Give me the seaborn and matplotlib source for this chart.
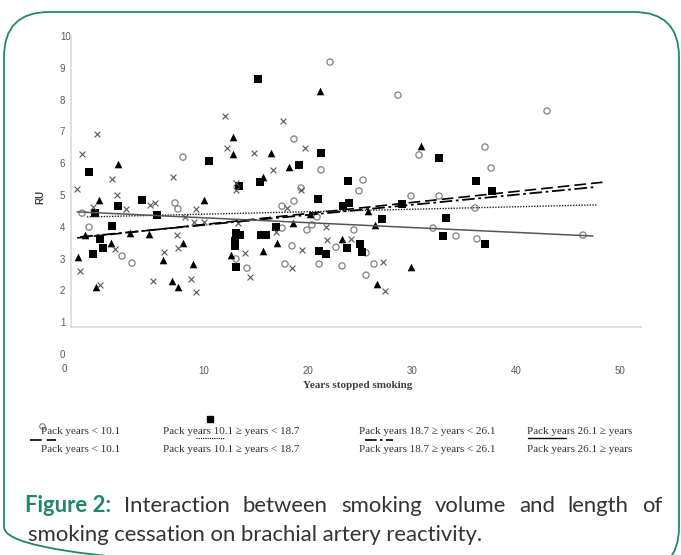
import numpy as np
import pandas as pd
import matplotlib
matplotlib.use("Agg")
import matplotlib.pyplot as plt
import seaborn as sns
from matplotlib.patches import FancyBboxPatch
from matplotlib.lines import Line2D

# ---------------- data ----------------
groups = ["Pack years < 10.1", "Pack years 10.1 \u2265 years < 18.7",
          "Pack years 18.7 \u2265 years < 26.1", "Pack years 26.1 \u2265 years"]

circle_x = [-1.73, -1.06, 2.12, 3.08, 7.98, 7.21, 7.50, 13.08, 14.13, 17.50, 17.50, 17.79, 18.46,
            18.65, 18.65, 19.33, 19.90, 20.38, 20.87, 21.06, 21.25, 22.12, 22.69, 23.27, 24.42,
            24.90, 25.29, 25.58, 25.58, 26.35, 28.65, 29.90, 30.67, 32.02, 32.60, 34.23, 36.06,
            36.25, 37.02, 37.60, 42.98, 46.44]
circle_y = [4.43, 3.99, 3.08, 2.86, 6.19, 4.75, 4.56, 2.99, 2.70, 4.65, 3.96, 2.83, 3.40,
            6.76, 4.81, 5.22, 3.90, 4.06, 4.31, 2.83, 5.79, 9.18, 3.36, 2.77, 3.90,
            5.13, 5.47, 3.18, 2.48, 2.83, 8.14, 4.97, 6.26, 3.96, 4.97, 3.71, 4.59,
            3.62, 6.51, 5.85, 7.64, 3.74]

square_x = [-1.06, 1.73, -0.48, 4.04, 5.48, 1.15, 0.00, 0.29, -0.67, 10.48, 15.19, 13.37, 15.38,
            13.08, 13.46, 12.98, 12.98, 13.08, 15.48, 15.96, 16.92, 19.13, 21.25, 20.96, 21.06,
            21.73, 23.85, 23.37, 23.94, 29.04, 27.12, 23.75, 25.00, 25.19, 32.60, 36.15, 37.69,
            33.27, 32.98, 37.02]
square_y = [5.72, 4.65, 4.43, 4.84, 4.37, 4.03, 3.62, 3.33, 3.14, 6.07, 8.65, 5.28, 5.41,
            3.81, 3.74, 3.55, 3.40, 2.74, 3.74, 3.74, 3.99, 5.94, 6.32, 4.87, 3.24,
            3.14, 5.44, 4.65, 4.75, 4.72, 4.25, 3.33, 3.46, 3.21, 6.16, 5.44, 5.13,
            4.28, 3.71, 3.46]

triangle_x = [1.73, -0.10, 10.00, 12.79, 12.79, 16.44, 15.67, 18.17, 21.15, -2.12, -1.44, 1.06,
              2.88, 4.71, 6.06, -0.38, 6.92, 7.50, 8.94, 7.98, 12.60, 15.67, 17.02, 18.56,
              20.19, 26.44, 23.27, 29.90, 26.63, 30.87, 25.77]
triangle_y = [5.97, 4.84, 4.84, 6.82, 6.29, 6.32, 5.57, 5.88, 8.27, 3.05, 3.74, 3.49,
              3.81, 3.77, 2.96, 2.11, 2.30, 2.11, 2.83, 3.49, 3.11, 3.24, 3.49, 4.12,
              4.40, 4.06, 3.62, 2.74, 2.20, 6.54, 4.50]

cross_x = [-2.21, -1.73, -0.29, 1.15, 1.63, 2.50, -0.67, 4.81, 5.29, 7.02, 9.23, 12.02, 12.21,
           14.81, 13.08, 13.08, 16.63, 17.60, 19.71, 19.33, 17.98, -1.92, 0.00, 1.44, 5.10,
           6.15, 7.40, 7.50, 8.75, 9.23, 9.04, 8.17, 10.00, 13.94, 14.42, 16.92, 21.73,
           21.83, 24.13, 19.42, 18.46, 27.21, 27.40, 13.27]
cross_y = [5.19, 6.29, 6.92, 5.50, 5.00, 4.56, 4.62, 4.69, 4.75, 5.57, 4.56, 7.48, 6.48,
           6.32, 5.38, 5.16, 5.79, 7.33, 6.48, 5.16, 4.59, 2.61, 2.17, 3.30, 2.30,
           3.21, 3.74, 3.33, 2.36, 1.95, 4.15, 4.31, 4.15, 3.18, 2.42, 3.84, 3.99,
           3.58, 3.62, 3.27, 2.70, 2.89, 1.98, 4.12]

# fitted trend lines (start / end)
trend_x0 = [-2.2, -1.25, -1.9, -2.2]
trend_x1 = [48.6, 47.8, 47.6, 47.4]
trend_y0 = [3.65, 4.31, 3.68, 4.47]
trend_y1 = [5.41, 4.69, 5.25, 3.71]

x_ticks = [10, 20, 30, 40, 50]
y_ticks = list(range(0, 11))

# ---------------- figure ----------------
sns.set_theme(style="white")
plt.rcParams["font.family"] = ["Liberation Sans", "DejaVu Sans"]

W, H = 681, 555
fig = plt.figure(figsize=(W / 100, H / 100), dpi=100)
fig.patch.set_facecolor("white")

# overlay in pixel coordinates
ov = fig.add_axes([0, 0, 1, 1])
ov.set_xlim(0, W)
ov.set_ylim(H, 0)
ov.axis("off")
ov.set_zorder(0)

teal = "#23866a"
border = FancyBboxPatch((4, 12), 675, 560, boxstyle="round,pad=0,rounding_size=45",
                        fill=False, edgecolor=teal, linewidth=1.3, clip_on=False)
ov.add_patch(border)

# main axes
ax_l, ax_r, ax_t, ax_b = 71, 642, 36, 354
ax = fig.add_axes([ax_l / W, 1 - ax_b / H, (ax_r - ax_l) / W, (ax_b - ax_t) / H])
ax.set_zorder(1)
ax.patch.set_alpha(0)
ax.set_xlim((ax_l - 100) / 10.4, (ax_r - 100) / 10.4)
ax.set_ylim(0, 10)

grey_marker = "#808080"
sns.scatterplot(x=circle_x, y=circle_y, ax=ax, marker="o", s=20, facecolor="none",
                edgecolor=grey_marker, linewidth=0.9, zorder=3)
sns.scatterplot(x=square_x, y=square_y, ax=ax, marker="s", s=28, color="black",
                edgecolor="black", linewidth=0, zorder=3)
sns.scatterplot(x=triangle_x, y=triangle_y, ax=ax, marker="^", s=30, color="black",
                edgecolor="black", linewidth=0, zorder=3)
sns.scatterplot(x=cross_x, y=cross_y, ax=ax, marker="x", s=18, color="#555555",
                linewidth=0.8, zorder=3)

line_styles = [(0, (7, 3)), (0, (1, 1)), (0, (7, 2, 1.5, 2)), "-"]
line_colors = ["black", "#222222", "black", "#555555"]
line_widths = [1.2, 1.0, 1.3, 1.1]
for i in range(4):
    sns.lineplot(x=[trend_x0[i], trend_x1[i]], y=[trend_y0[i], trend_y1[i]], ax=ax,
                 color=line_colors[i], linewidth=line_widths[i], linestyle=line_styles[i],
                 zorder=4)

for s in ["top", "right", "bottom"]:
    ax.spines[s].set_visible(False)
ax.spines["left"].set_color("#d9d9d9")
ax.spines["left"].set_linewidth(1.2)
ax.spines["left"].set_bounds(0.85, 10)
ax.axhline(0.85, color="#d9d9d9", linewidth=1.2, zorder=1)

ax.set_xticks(x_ticks)
ax.set_xticklabels([str(v) for v in x_ticks])
ax.set_yticks(y_ticks)
ax.set_yticklabels([str(v) for v in y_ticks])
ax.tick_params(axis="both", length=0, labelsize=7, labelcolor="#595959")
ax.tick_params(axis="x", pad=9)
ax.tick_params(axis="y", pad=8)
for lab in ax.get_yticklabels():
    lab.set_horizontalalignment("left")
ax.grid(False)
ax.set_xlabel("")
ax.set_ylabel("")

# extra "0" under axis origin and axis titles
ov.text(64, 369, "0", fontsize=7, color="#595959", ha="center", va="center")
ov.text(358, 385, "Years stopped smoking", fontsize=8, color="#404040", ha="center",
        va="center", fontweight="bold", family=["Liberation Serif"])
ov.text(40, 197, "RU", fontsize=7, color="#404040", ha="center", va="center",
        rotation=90, fontweight="bold")

# ---------------- legend (manual) ----------------
serif = ["Liberation Serif", "DejaVu Serif"]
leg_x = [41, 163, 359, 527]
for i, g in enumerate(groups):
    ov.text(leg_x[i], 432, g, fontsize=8, color="#333333", ha="left", va="center", family=serif)
    ov.text(leg_x[i], 449, g, fontsize=8, color="#333333", ha="left", va="center", family=serif)
ov.add_line(Line2D([42], [426], marker="o", markersize=4, markerfacecolor="none",
                   markeredgecolor=grey_marker, markeredgewidth=0.8, linestyle="none"))
ov.add_line(Line2D([210], [419], marker="s", markersize=4.5, color="black", linestyle="none"))
ov.add_line(Line2D([30, 56], [440, 440], color="black", linewidth=1.2, linestyle=line_styles[0]))
ov.add_line(Line2D([196, 224], [438, 438], color="black", linewidth=0.8, linestyle=line_styles[1]))
ov.add_line(Line2D([365, 393], [440, 440], color="black", linewidth=1.2, linestyle=line_styles[2]))
ov.add_line(Line2D([528, 566], [438, 438], color="black", linewidth=1.0, linestyle="-"))

# ---------------- caption (justified first line) ----------------
cap_font = ["Lato", "DejaVu Sans"]
line2 = "smoking cessation on brachial artery reactivity."
fig.canvas.draw()
r = fig.canvas.get_renderer()
probe = ov.text(28, 535, line2, fontsize=12, family=cap_font, va="center", ha="left",
                color="#333333")
w12 = probe.get_window_extent(r).width
cap_size = 12 * 454 / w12
probe.set_fontsize(cap_size)

words1 = ["Figure 2:", "Interaction", "between", "smoking", "volume", "and", "length", "of"]
texts = []
for j, w in enumerate(words1):
    t = ov.text(0, 506, w, fontsize=cap_size, family=cap_font, va="center", ha="left",
                color=teal if j == 0 else "#333333",
                fontweight="bold" if j == 0 else "normal")
    texts.append(t)
widths = [t.get_window_extent(r).width for t in texts]
x0, x1 = 25, 662
gap = (x1 - x0 - sum(widths)) / (len(words1) - 1)
xc = x0
for t, w in zip(texts, widths):
    t.set_x(xc)
    xc += w + gap

fig.savefig("out.png", dpi=100, facecolor="white")
